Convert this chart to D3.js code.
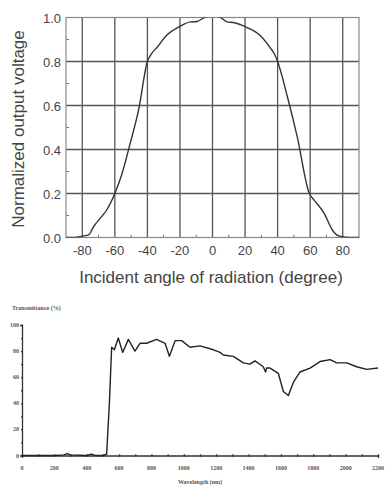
<!DOCTYPE html>
<html>
<head>
<meta charset="utf-8">
<script src="https://cdn.jsdelivr.net/npm/d3@7"></script>
<style>
  html, body { margin: 0; padding: 0; background: #fff; }
  svg { display: block; }
</style>
</head>
<body>
<div id="chart"></div>
<script>
// top panel: angular response
const angles = [-90, -85, -80, -76, -73, -69, -65, -60, -55.6, -50.5, -45.4, -40, -37.5, -34, -28, -20, -13.6, -9.4, -5, 0, 5, 9, 13, 21, 29.6, 35.7, 38, 40, 46, 52, 59.5, 62.4, 68.6, 73.7, 78, 85, 90];
const voltage = [0, 0, 0.006, 0.012, 0.05, 0.087, 0.125, 0.2, 0.29, 0.43, 0.58, 0.8, 0.835, 0.865, 0.92, 0.96, 0.98, 0.982, 1.0, 1.01, 1.0, 0.98, 0.977, 0.955, 0.916, 0.86, 0.835, 0.8, 0.64, 0.46, 0.2, 0.17, 0.11, 0.033, 0.006, 0, 0];
const angleTicks = [-80, -60, -40, -20, 0, 20, 40, 60, 80];
const voltTicks = [0.0, 0.2, 0.4, 0.6, 0.8, 1.0];

// bottom panel: transmittance spectrum
const wavelength = [0, 100, 200, 260, 280, 300, 400, 430, 450, 500, 523, 540, 554, 571, 595, 622, 657, 698, 729, 770, 832, 884, 911, 946, 987, 1038, 1100, 1183, 1224, 1244, 1306, 1368, 1409, 1440, 1491, 1505, 1512, 1533, 1584, 1615, 1646, 1677, 1718, 1780, 1842, 1904, 1945, 2007, 2068, 2130, 2200];
const transmit = [0, 0, 0, 0.5, 1.5, 0.5, 0, 1, 0, 0, 1, 40, 83, 81, 90, 79, 89, 80, 86, 86, 89, 86, 76, 88, 88, 83, 84, 81, 79, 77, 76, 71, 70, 72.5, 68, 64, 67, 67, 63, 49, 46, 56, 64, 67, 72, 73.5, 71, 71, 68, 66, 67];
const waveTicks = [0, 200, 400, 600, 800, 1000, 1200, 1400, 1600, 1800, 2000, 2200];
const transTicks = [0, 20, 40, 60, 80, 100];

const W = 385, H = 485;
const svg = d3.select('#chart').append('svg').attr('width', W).attr('height', H);

// ---------- top chart ----------
const x1 = d3.scaleLinear().domain([-90, 90]).range([66, 359]);
const y1 = d3.scaleLinear().domain([0, 1]).range([237.5, 17.5]);
const topG = svg.append('g');

topG.append('clipPath').attr('id', 'clipTop').append('rect')
  .attr('x', x1(-90)).attr('y', y1(1)).attr('width', x1(90) - x1(-90)).attr('height', y1(0) - y1(1));

// grid
topG.selectAll('line.vg').data(angleTicks).join('line').attr('class', 'vg')
  .attr('x1', d => x1(d)).attr('x2', d => x1(d)).attr('y1', y1(0)).attr('y2', y1(1))
  .attr('stroke', '#555').attr('stroke-width', 1.3);
topG.selectAll('line.hg').data(voltTicks.filter(d => d > 0 && d < 1)).join('line').attr('class', 'hg')
  .attr('x1', x1(-90)).attr('x2', x1(90)).attr('y1', d => y1(d)).attr('y2', d => y1(d))
  .attr('stroke', '#555').attr('stroke-width', 1.3);

// minor ticks inside the frame
const minorX = d3.range(-70, 90, 20);
topG.selectAll('line.mx').data(minorX).join('line').attr('class', 'mx')
  .attr('x1', d => x1(d)).attr('x2', d => x1(d)).attr('y1', y1(0)).attr('y2', y1(0) - 3)
  .attr('stroke', '#777');
const minorY = [0.1, 0.3, 0.5, 0.7, 0.9];
topG.selectAll('line.my').data(minorY).join('line').attr('class', 'my')
  .attr('x1', x1(-90)).attr('x2', x1(-90) + 3).attr('y1', d => y1(d)).attr('y2', d => y1(d))
  .attr('stroke', '#777');

// frame
topG.append('rect').attr('x', x1(-90)).attr('y', y1(1))
  .attr('width', x1(90) - x1(-90)).attr('height', y1(0) - y1(1))
  .attr('fill', 'none').attr('stroke', '#888').attr('stroke-width', 1.2);

// curve
const line1 = d3.line().x(d => x1(d[0])).y(d => y1(d[1])).curve(d3.curveMonotoneX);
topG.append('path').datum(d3.zip(angles, voltage)).attr('clip-path', 'url(#clipTop)')
  .attr('d', line1).attr('fill', 'none').attr('stroke', '#333').attr('stroke-width', 1.4);

// tick labels
topG.selectAll('text.xl').data(angleTicks).join('text').attr('class', 'xl')
  .attr('x', d => x1(d)).attr('y', 255).attr('text-anchor', 'middle')
  .style('font', '13px "Liberation Sans", Arial, sans-serif').style('fill', '#444').text(d => d);
topG.selectAll('text.yl').data(voltTicks).join('text').attr('class', 'yl')
  .attr('x', 61).attr('y', d => y1(d) + 5).attr('text-anchor', 'end')
  .style('font', '13px "Liberation Sans", Arial, sans-serif').style('fill', '#444').text(d => d.toFixed(1));

// titles
topG.append('text').attr('x', 211).attr('y', 283).attr('text-anchor', 'middle')
  .style('font', '17px "Liberation Sans", Arial, sans-serif').style('fill', '#444')
  .text('Incident angle of radiation (degree)');
topG.append('text').attr('transform', 'translate(24,129) rotate(-90)').attr('text-anchor', 'middle')
  .style('font', '17px "Liberation Sans", Arial, sans-serif').style('fill', '#444')
  .text('Normalized output voltage');

// ---------- bottom chart ----------
const x2 = d3.scaleLinear().domain([0, 2200]).range([22, 378]);
const y2 = d3.scaleLinear().domain([0, 100]).range([455.5, 325]);
const botG = svg.append('g');
const tiny = 'bold 6px "Liberation Serif", "Times New Roman", serif';

const xAxis = d3.axisBottom(x2).tickValues(d3.range(0, 2201, 100)).tickSize(2.5).tickFormat('');
botG.append('g').attr('transform', `translate(0,${y2(0)})`).call(xAxis)
  .call(g => g.selectAll('line').attr('transform', 'translate(0,-1.2)'))
  .call(g => g.selectAll('path,line').attr('stroke', '#333').attr('stroke-width', 1.3));
const yAxis = d3.axisLeft(y2).tickValues(d3.range(0, 101, 10)).tickSize(2).tickFormat('');
botG.append('g').attr('transform', `translate(${x2(0)},0)`).call(yAxis)
  .call(g => g.selectAll('line').attr('transform', 'translate(1,0)'))
  .call(g => g.selectAll('path,line').attr('stroke', '#333').attr('stroke-width', 1.3));

botG.selectAll('text.bx').data(waveTicks).join('text').attr('class', 'bx')
  .attr('x', d => x2(d)).attr('y', 469.5).attr('text-anchor', 'middle')
  .style('font', tiny).style('fill', '#555').text(d => d);
botG.selectAll('text.by').data(transTicks).join('text').attr('class', 'by')
  .attr('x', 19).attr('y', d => y2(d) + 2).attr('text-anchor', 'end')
  .style('font', tiny).style('fill', '#555').text(d => d);

botG.append('text').attr('x', 12).attr('y', 310).style('font', tiny).style('fill', '#555')
  .text('Transmittance (%)');
botG.append('text').attr('x', 200).attr('y', 484).attr('text-anchor', 'middle')
  .style('font', tiny).style('fill', '#555').text('Wavelength (nm)');

const line2 = d3.line().x(d => x2(d[0])).y(d => y2(d[1]));
botG.append('path').datum(d3.zip(wavelength, transmit))
  .attr('d', line2).attr('fill', 'none').attr('stroke', '#222').attr('stroke-width', 1.4)
  .attr('stroke-linejoin', 'round');
</script>
</body>
</html>
